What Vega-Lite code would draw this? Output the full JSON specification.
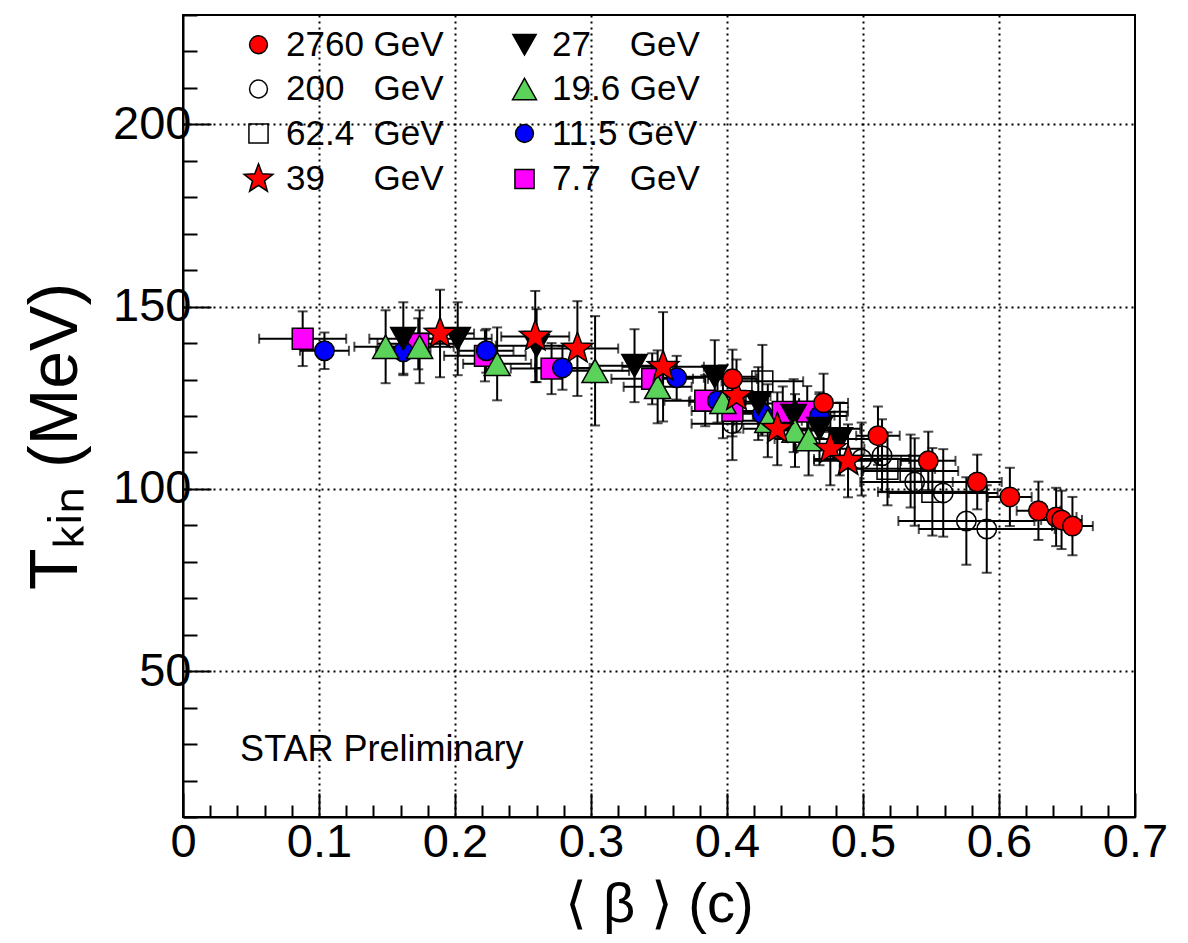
{
  "$schema": "https://vega.github.io/schema/vega-lite/v6.json",
  "width": 952,
  "height": 802,
  "autosize": "none",
  "padding": {"left": 183, "top": 15, "right": 53, "bottom": 126},
  "background": "white",
  "config": {
    "font": "Liberation Sans",
    "view": {"stroke": "black", "strokeWidth": 2},
    "axis": {
      "domainColor": "black", "domainWidth": 2,
      "tickColor": "black", "tickWidth": 2,
      "gridColor": "black", "gridDash": [2, 4], "gridWidth": 2,
      "labelColor": "black", "labelFont": "Liberation Sans",
      "labelFlush": false, "labelOverlap": false, "labelBound": false,
      "titleColor": "black", "titleFont": "Liberation Sans", "titleFontWeight": "normal"
    }
  },
  "datasets": {
    "pts": [
      {"s": "200", "x": 0.404, "y": 117.9, "ex": 0.03, "ey": 10},
      {"s": "200", "x": 0.499, "y": 108.2, "ex": 0.035, "ey": 10},
      {"s": "200", "x": 0.514, "y": 109.1, "ex": 0.035, "ey": 10},
      {"s": "200", "x": 0.538, "y": 101.9, "ex": 0.04, "ey": 12},
      {"s": "200", "x": 0.559, "y": 98.9, "ex": 0.04, "ey": 12},
      {"s": "200", "x": 0.576, "y": 91.2, "ex": 0.05, "ey": 12},
      {"s": "200", "x": 0.591, "y": 89.0, "ex": 0.05, "ey": 12},
      {"s": "62.4", "x": 0.426, "y": 129.5, "ex": 0.03, "ey": 10},
      {"s": "62.4", "x": 0.518, "y": 105.5, "ex": 0.035, "ey": 10},
      {"s": "62.4", "x": 0.535, "y": 104.9, "ex": 0.035, "ey": 10},
      {"s": "62.4", "x": 0.551, "y": 99.2, "ex": 0.04, "ey": 12},
      {"s": "7.7", "x": 0.088, "y": 141.2, "ex": 0.032, "ey": 7.5},
      {"s": "7.7", "x": 0.173, "y": 139.8, "ex": 0.03, "ey": 7},
      {"s": "7.7", "x": 0.222, "y": 136.5, "ex": 0.03, "ey": 7},
      {"s": "7.7", "x": 0.271, "y": 133.0, "ex": 0.03, "ey": 7},
      {"s": "7.7", "x": 0.345, "y": 130.2, "ex": 0.03, "ey": 7},
      {"s": "7.7", "x": 0.384, "y": 124.2, "ex": 0.03, "ey": 7},
      {"s": "7.7", "x": 0.404, "y": 121.4, "ex": 0.03, "ey": 7},
      {"s": "7.7", "x": 0.441, "y": 121.1, "ex": 0.03, "ey": 7},
      {"s": "7.7", "x": 0.459, "y": 121.2, "ex": 0.03, "ey": 7},
      {"s": "11.5", "x": 0.104, "y": 137.9, "ex": 0.018, "ey": 5},
      {"s": "11.5", "x": 0.162, "y": 137.6, "ex": 0.02, "ey": 6},
      {"s": "11.5", "x": 0.223, "y": 137.9, "ex": 0.02, "ey": 6},
      {"s": "11.5", "x": 0.279, "y": 133.2, "ex": 0.02, "ey": 6},
      {"s": "11.5", "x": 0.363, "y": 130.5, "ex": 0.02, "ey": 6},
      {"s": "11.5", "x": 0.393, "y": 124.2, "ex": 0.02, "ey": 6},
      {"s": "11.5", "x": 0.426, "y": 120.6, "ex": 0.02, "ey": 6},
      {"s": "11.5", "x": 0.468, "y": 120.0, "ex": 0.02, "ey": 6},
      {"s": "27", "x": 0.162, "y": 141.2, "ex": 0.025, "ey": 10},
      {"s": "27", "x": 0.202, "y": 141.2, "ex": 0.025, "ey": 10},
      {"s": "27", "x": 0.260, "y": 139.3, "ex": 0.03, "ey": 10},
      {"s": "27", "x": 0.332, "y": 133.8, "ex": 0.03, "ey": 10},
      {"s": "27", "x": 0.391, "y": 130.8, "ex": 0.03, "ey": 10},
      {"s": "27", "x": 0.423, "y": 123.4, "ex": 0.03, "ey": 10},
      {"s": "27", "x": 0.449, "y": 120.1, "ex": 0.03, "ey": 10},
      {"s": "27", "x": 0.468, "y": 116.5, "ex": 0.03, "ey": 10},
      {"s": "27", "x": 0.483, "y": 113.7, "ex": 0.03, "ey": 10},
      {"s": "19.6", "x": 0.149, "y": 139.0, "ex": 0.023, "ey": 10},
      {"s": "19.6", "x": 0.174, "y": 139.0, "ex": 0.025, "ey": 10},
      {"s": "19.6", "x": 0.231, "y": 134.3, "ex": 0.025, "ey": 10},
      {"s": "19.6", "x": 0.303, "y": 132.4, "ex": 0.025, "ey": 15},
      {"s": "19.6", "x": 0.349, "y": 128.0, "ex": 0.025, "ey": 10},
      {"s": "19.6", "x": 0.397, "y": 123.9, "ex": 0.025, "ey": 10},
      {"s": "19.6", "x": 0.430, "y": 118.7, "ex": 0.025, "ey": 10},
      {"s": "19.6", "x": 0.450, "y": 116.0, "ex": 0.025, "ey": 10},
      {"s": "19.6", "x": 0.460, "y": 113.7, "ex": 0.025, "ey": 10},
      {"s": "39", "x": 0.189, "y": 142.6, "ex": 0.025, "ey": 12},
      {"s": "39", "x": 0.259, "y": 141.8, "ex": 0.025, "ey": 12.5},
      {"s": "39", "x": 0.290, "y": 138.5, "ex": 0.03, "ey": 13},
      {"s": "39", "x": 0.353, "y": 133.5, "ex": 0.03, "ey": 15},
      {"s": "39", "x": 0.407, "y": 125.5, "ex": 0.025, "ey": 10},
      {"s": "39", "x": 0.437, "y": 116.5, "ex": 0.025, "ey": 10},
      {"s": "39", "x": 0.476, "y": 111.0, "ex": 0.025, "ey": 10},
      {"s": "39", "x": 0.489, "y": 107.7, "ex": 0.025, "ey": 10},
      {"s": "2760", "x": 0.404, "y": 130.2, "ex": 0.018, "ey": 8},
      {"s": "2760", "x": 0.471, "y": 123.6, "ex": 0.018, "ey": 8},
      {"s": "2760", "x": 0.511, "y": 114.6, "ex": 0.016, "ey": 8},
      {"s": "2760", "x": 0.548, "y": 107.7, "ex": 0.02, "ey": 8},
      {"s": "2760", "x": 0.584, "y": 101.9, "ex": 0.018, "ey": 7.5},
      {"s": "2760", "x": 0.608, "y": 97.8, "ex": 0.016, "ey": 8},
      {"s": "2760", "x": 0.629, "y": 94.0, "ex": 0.016, "ey": 8},
      {"s": "2760", "x": 0.642, "y": 92.3, "ex": 0.015, "ey": 8},
      {"s": "2760", "x": 0.646, "y": 91.5, "ex": 0.015, "ey": 8},
      {"s": "2760", "x": 0.654, "y": 89.8, "ex": 0.015, "ey": 8}
    ]
  },
  "data": {"name": "pts"},
  "layer": [
    {
      "mark": {"type": "errorbar", "ticks": true, "size": 10, "thickness": 2, "color": "black", "clip": true},
      "encoding": {
        "x": {"field": "x", "type": "quantitative", "title": "⟨ β ⟩ (c)", "scale": {"domain": [0, 0.7], "nice": false, "zero": false}},
        "xError": {"field": "ex"},
        "y": {"field": "y", "type": "quantitative", "title": "Tₖᵢₙ (MeV)", "scale": {"domain": [10, 230], "nice": false, "zero": false}}
      }
    },
    {
      "mark": {"type": "errorbar", "ticks": true, "size": 10, "thickness": 2, "color": "black", "clip": true},
      "encoding": {
        "y": {"field": "y", "type": "quantitative", "title": "Tₖᵢₙ (MeV)"},
        "yError": {"field": "ey"},
        "x": {"field": "x", "type": "quantitative", "title": "⟨ β ⟩ (c)"}
      }
    },
    {
      "mark": {"type": "point", "filled": true, "stroke": "black", "strokeWidth": 1.5, "size": 380, "opacity": 1, "strokeOpacity": 1, "fillOpacity": 1},
      "encoding": {
        "x": {
          "field": "x", "type": "quantitative", "title": "⟨ β ⟩ (c)",
          "axis": {
            "values": [0,0.02,0.04,0.06,0.08,0.1,0.12,0.14,0.16,0.18,0.2,0.22,0.24,0.26,0.28,0.3,0.32,0.34,0.36,0.38,0.4,0.42,0.44,0.46,0.48,0.5,0.52,0.54,0.56,0.58,0.6,0.62,0.64,0.66,0.68,0.7],
            "tickCount": 200,
            "labelOverlap": false,
            "labelExpr": "abs(datum.value*10 - round(datum.value*10)) < 0.001 ? format(datum.value, '.1~f') : ''",
            "tickSize": {"condition": {"test": "abs(datum.value*10 - round(datum.value*10)) < 0.001", "value": -24}, "value": -12},
            "grid": true,
            "gridOpacity": {"condition": {"test": "abs(datum.value*10 - round(datum.value*10)) < 0.001 && datum.value > 0.05 && datum.value < 0.65", "value": 1}, "value": 0},
            "labelFontSize": 47,
            "labelPadding": 26,
            "titleFontSize": 56,
            "titlePadding": 0
          }
        },
        "y": {
          "field": "y", "type": "quantitative", "title": "Tₖᵢₙ (MeV)",
          "axis": {
            "values": [10,20,30,40,50,60,70,80,90,100,110,120,130,140,150,160,170,180,190,200,210,220,230],
            "tickCount": 200,
            "labelOverlap": false,
            "labelExpr": "datum.value % 50 === 0 ? format(datum.value, 'd') : ''",
            "tickSize": {"condition": {"test": "datum.value % 50 === 0", "value": -28}, "value": -14},
            "grid": true,
            "gridOpacity": {"condition": {"test": "datum.value % 50 === 0", "value": 1}, "value": 0},
            "labelFontSize": 47,
            "labelPadding": 20,
            "titleFontSize": 68,
            "titlePadding": 22,
            "titleY": 421
          }
        },
        "shape": {
          "field": "s", "type": "nominal",
          "scale": {
            "domain": ["2760", "200", "62.4", "39", "27", "19.6", "11.5", "7.7"],
            "range": [
              "circle",
              "circle",
              "M-1.07,-1.07L1.07,-1.07L1.07,1.07L-1.07,1.07Z",
              "M0,-1.69L0.417,-0.574L1.607,-0.522L0.675,0.219L0.994,1.367L0,0.71L-0.994,1.367L-0.675,0.219L-1.607,-0.522L-0.417,-0.574Z",
              "M-1.3,-1.15L1.3,-1.15L0,1.15Z",
              "M0,-1.2L1.34,1.2L-1.34,1.2Z",
              "circle",
              "M-1.07,-1.07L1.07,-1.07L1.07,1.07L-1.07,1.07Z"
            ]
          },
          "legend": {
            "orient": "none", "legendX": 58, "legendY": 12,
            "columns": 2, "columnPadding": 63, "rowPadding": 8.5,
            "padding": 0, "title": null,
            "symbolSize": 320,
            "labelFontSize": 35, "labelFont": "Liberation Sans", "labelColor": "black", "labelOffset": 10,
            "labelLimit": 400,
            "labelExpr": "({'2760':'2760 GeV','200':'200\u00a0\u00a0\u00a0GeV','62.4':'62.4\u00a0\u00a0GeV','39':'39\u00a0\u00a0\u00a0\u00a0\u00a0GeV','27':'27\u00a0\u00a0\u00a0\u00a0GeV','19.6':'19.6 GeV','11.5':'11.5 GeV','7.7':'7.7\u00a0\u00a0\u00a0GeV'})[datum.label]",
            "encode": {
              "symbols": {
                "strokeWidth": {"condition": {"test": "indexof(['200','62.4'], datum.value) >= 0", "value": 1.5}, "value": 0}
              }
            }
          }
        },
        "fill": {
          "field": "s", "type": "nominal",
          "scale": {
            "domain": ["2760", "200", "62.4", "39", "27", "19.6", "11.5", "7.7"],
            "range": ["#ff0000", "rgba(255,255,255,0)", "rgba(255,255,255,0)", "#ff0000", "#000000", "#5bd35b", "#0000ff", "#ff00ff"]
          }
        }
      }
    },
    {
      "data": {"values": [{"x": 0.042, "y": 28.5, "t": "STAR Preliminary"}]},
      "mark": {"type": "text", "align": "left", "baseline": "middle", "fontSize": 36, "font": "Liberation Sans", "color": "black"},
      "encoding": {
        "x": {"field": "x", "type": "quantitative", "title": "⟨ β ⟩ (c)"},
        "y": {"field": "y", "type": "quantitative", "title": "Tₖᵢₙ (MeV)"},
        "text": {"field": "t"}
      }
    }
  ]
}
